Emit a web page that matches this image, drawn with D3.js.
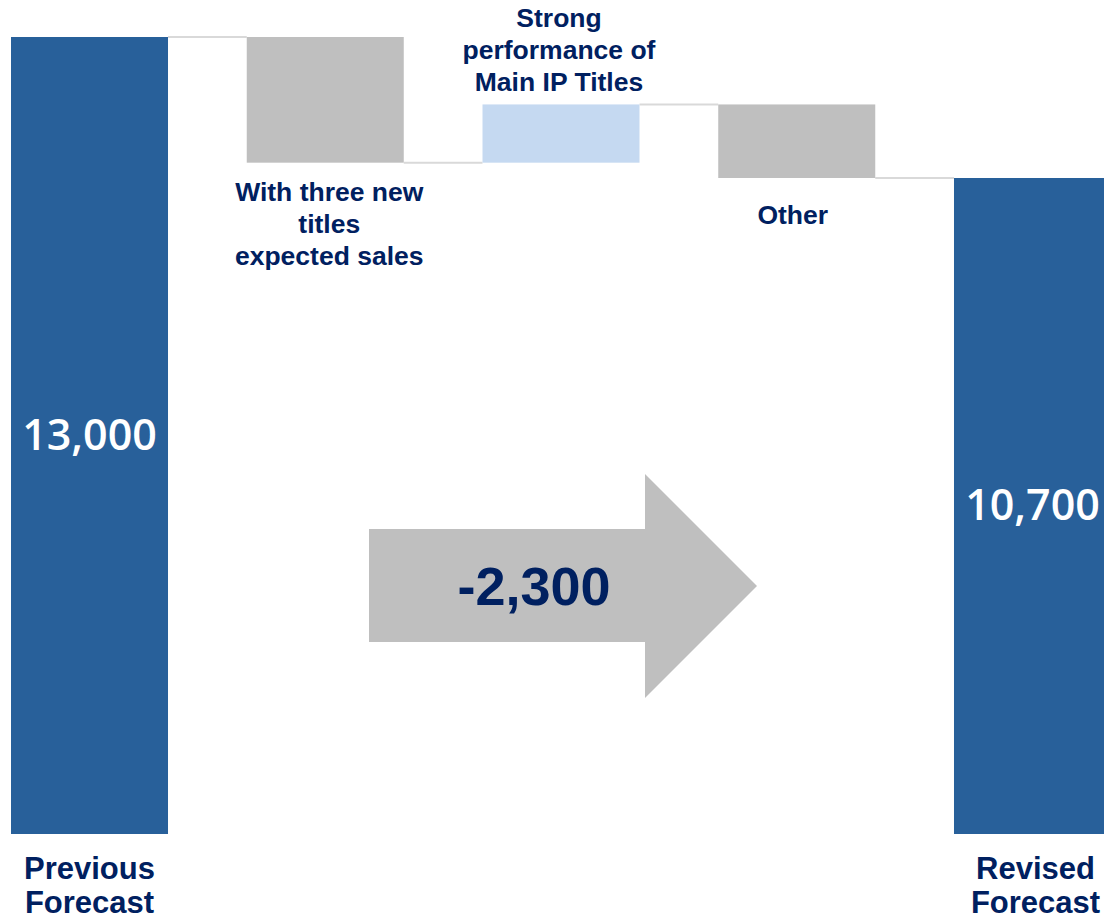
<!DOCTYPE html>
<html>
<head>
<meta charset="utf-8">
<script src="https://cdn.jsdelivr.net/npm/d3@7"></script>
<style>
  html, body { margin: 0; padding: 0; background: #fff; }
  svg { display: block; }
  .lbl { font-family: "Liberation Sans", Arial, sans-serif; font-weight: bold; fill: #002060; }
  .num { font-family: "Open Sans", "Noto Sans", sans-serif; font-weight: 600; fill: #fff; }
</style>
</head>
<body>
<svg id="chart" width="1104" height="920"></svg>
<script>
// Forecast bridge: previous total, three adjustments, revised total
const categories = ["prev", "newTitles", "mainIP", "other", "revised"];
const labelLines = [
  ["Previous", "Forecast"],
  ["With three new", "titles", "expected sales"],
  ["Strong", "performance of", "Main IP Titles"],
  ["Other"],
  ["Revised", "Forecast"]
];
const values = [13000, -2050, 950, -1200, 10700];
const kinds = ["total", "step", "step", "step", "total"];

const svg = d3.select("#chart");

const x = d3.scaleBand().domain(categories).range([11, 1111]).paddingInner(0.334).paddingOuter(0);
const y = d3.scaleLinear().domain([0, 13000]).range([834, 37]);
const bw = x.bandwidth();

const fmt = d3.formatLocale({ decimal: ".", thousands: ",", grouping: [3], currency: ["", ""], minus: "-" }).format(",");

// running levels for the floating steps
let level = 0;
const bars = categories.map((c, i) => {
  let y0, y1;
  if (kinds[i] === "total") { y0 = 0; y1 = values[i]; level = values[i]; }
  else { y0 = level; y1 = level + values[i]; level = y1; }
  return { c, i, y0, y1, v: values[i], kind: kinds[i], end: level };
});

const colorOf = d => d.kind === "total" ? "#28609A" : (d.v < 0 ? "#BFBFBF" : "#C5D9F1");

// connectors between consecutive bars
svg.append("g").selectAll("line").data(bars.slice(0, -1)).join("line")
  .attr("x1", d => x(d.c) + bw)
  .attr("x2", d => x(categories[d.i + 1]))
  .attr("y1", d => y(d.end))
  .attr("y2", d => y(d.end))
  .attr("stroke", "#D9D9D9").attr("stroke-width", 2);

svg.append("g").selectAll("rect").data(bars).join("rect")
  .attr("x", d => x(d.c))
  .attr("width", bw)
  .attr("y", d => y(Math.max(d.y0, d.y1)))
  .attr("height", d => Math.abs(y(d.y0) - y(d.y1)))
  .attr("fill", colorOf);

// totals printed inside their bars
svg.append("g").selectAll("text").data(bars.filter(d => d.kind === "total")).join("text")
  .attr("class", "num")
  .attr("x", d => x(d.c) + bw / 2)
  .attr("y", d => (y(0) + y(d.v)) / 2 + 14)
  .attr("text-anchor", "middle")
  .style("font-size", "43px")
  .text(d => fmt(d.v));

// category labels (small nudges keep each text box where it reads best)
const nudgeX = [0, 4, -2, -4, 3];
const nudgeY = [0, 0, 0, 8, 0];
const lineH = 32;
bars.forEach(d => {
  const lines = labelLines[d.i];
  const cx = x(d.c) + bw / 2 + nudgeX[d.i];
  let base, lh = lineH, size = 26.5;
  if (d.kind === "total") { base = 879; lh = 34; size = 31; }
  else if (d.v < 0) { base = y(Math.min(d.y0, d.y1)) + 38; }
  else { base = y(Math.max(d.y0, d.y1)) - 13 - (lines.length - 1) * lh; }
  base += nudgeY[d.i];
  const t = svg.append("text").attr("class", "lbl")
    .attr("text-anchor", "middle").style("font-size", size + "px");
  lines.forEach((s, k) => {
    t.append("tspan").attr("x", cx).attr("y", base + k * lh).text(s);
  });
});

// overall change arrow
const change = d3.sum(bars.filter(d => d.kind === "step"), d => d.v);
const arrow = d3.path();
arrow.moveTo(369, 529);
arrow.lineTo(645, 529);
arrow.lineTo(645, 474);
arrow.lineTo(757, 586);
arrow.lineTo(645, 698);
arrow.lineTo(645, 642);
arrow.lineTo(369, 642);
arrow.closePath();
svg.append("path").attr("d", arrow.toString()).attr("fill", "#BFBFBF");
svg.append("text").attr("class", "lbl")
  .attr("x", 534).attr("y", 605)
  .attr("text-anchor", "middle")
  .style("font-size", "54px")
  .text(fmt(change));
</script>
</body>
</html>
